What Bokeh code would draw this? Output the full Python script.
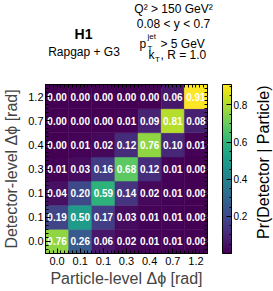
import numpy as np
from bokeh.plotting import figure
from bokeh.layouts import column, row
from bokeh.models import (ColumnDataSource, LinearColorMapper, ColorBar, FixedTicker,
                          LinearAxis, Range1d)
from bokeh.palettes import Viridis256
from bokeh.core.properties import value
from bokeh.embed import file_html
from bokeh.resources import INLINE

# ---------------- data ----------------
particle_labels = ["0.0", "0.1", "0.1", "0.3", "0.4", "0.7", "1.2"]
detector_labels = ["0.0", "0.1", "0.1", "0.3", "0.4", "0.7", "1.2"]
# rows: detector-level bins (bottom -> top); columns: particle-level bins (left -> right)
det_bin0 = [0.76, 0.26, 0.06, 0.02, 0.01, 0.01, 0.00]
det_bin1 = [0.19, 0.50, 0.17, 0.03, 0.01, 0.01, 0.00]
det_bin2 = [0.04, 0.20, 0.59, 0.14, 0.02, 0.01, 0.00]
det_bin3 = [0.01, 0.03, 0.16, 0.68, 0.12, 0.01, 0.00]
det_bin4 = [0.00, 0.01, 0.02, 0.12, 0.76, 0.10, 0.01]
det_bin5 = [0.00, 0.00, 0.00, 0.01, 0.09, 0.81, 0.08]
det_bin6 = [0.00, 0.00, 0.00, 0.00, 0.00, 0.06, 0.91]
colorbar_ticks = [0.2, 0.4, 0.6, 0.8]
color_low, color_high = 0.0, 0.91

rows = [det_bin0, det_bin1, det_bin2, det_bin3, det_bin4, det_bin5, det_bin6]
n = len(particle_labels)

xs, ys, vs, ts = [], [], [], []
for j, row_vals in enumerate(rows):
    for i, v in enumerate(row_vals):
        xs.append(i + 0.5)
        ys.append(j + 0.5)
        vs.append(v)
        ts.append(f"{v:.2f}")
src = ColumnDataSource(dict(x=xs, y=ys, v=vs, t=ts))

FONT = "Liberation Sans"
W, H = 273, 291
HEAD_H = 66
MAIN_H = H - HEAD_H
SIDE_W = 20
MAIN_W = W - SIDE_W
FRAME_L, FRAME_T, FRAME_B = 42, 18, 38
FRAME_R = MAIN_W - 207


def blank_fig(width, height, xr, yr):
    f = figure(width=width, height=height, x_range=xr, y_range=yr,
               output_backend="svg", toolbar_location=None,
               x_axis_location=None, y_axis_location=None,
               min_border=0, min_border_left=0, min_border_right=0,
               min_border_top=0, min_border_bottom=0,
               background_fill_color="white", border_fill_color="white")
    f.grid.visible = False
    f.outline_line_color = None
    return f


# ---------------- header (text block), page-pixel coordinates ----------------
head = blank_fig(W, HEAD_H, Range1d(0, W), Range1d(HEAD_H, 0))


def htext(x, y, text, size="12px", align="center", style="normal"):
    head.text(x=[x], y=[y], text=[text], text_align=align, text_baseline="middle",
              text_font=value(FONT), text_font_size=size, text_font_style=style,
              text_color="black")


htext(83, 33, "H1", size="14px", style="bold")
htext(83.5, 51, "Rapgap + G3")
htext(173, 8.5, "Q² > 150 GeV²")
htext(173, 23.5, "0.08 < y < 0.7")
htext(139, 43, "p", align="left")
htext(147, 36, "jet", size="8px", align="left")
htext(147, 47.5, "T", size="8px", align="left")
htext(160, 43, "> 5 GeV", align="left")
htext(148, 54.5, "k", align="left")
htext(154.5, 58.5, "T", size="8px", align="left")
htext(160, 54.5, ", R = 1.0", align="left")

# ---------------- colour-bar title strip, page-pixel coordinates ----------------
side = blank_fig(SIDE_W, MAIN_H, Range1d(MAIN_W, W), Range1d(H, HEAD_H))
side.text(x=[262.5], y=[85], text=["Pr(Detector | Particle)"], angle=np.pi / 2,
          text_align="right", text_baseline="middle", text_font=value(FONT),
          text_font_size="16px", text_color="black")

# ---------------- heatmap ----------------
p = figure(width=MAIN_W, height=MAIN_H, x_range=Range1d(0, n), y_range=Range1d(0, n),
           output_backend="svg", toolbar_location=None,
           min_border_left=FRAME_L, min_border_right=FRAME_R,
           min_border_top=FRAME_T, min_border_bottom=FRAME_B,
           background_fill_color="white", border_fill_color="white")
p.grid.visible = False
p.outline_line_color = "black"

# keep each figure's own frame (do not align frames across the layout)
for fig in (head, side, p):
    try:
        fig.frame_align = False
    except Exception:
        pass

mapper = LinearColorMapper(palette=Viridis256, low=color_low, high=color_high)
p.rect(x="x", y="y", width=1, height=1, source=src,
       fill_color={"field": "v", "transform": mapper},
       line_color={"field": "v", "transform": mapper}, line_width=0.5)
p.text(x="x", y="y", text="t", source=src, text_align="center", text_baseline="middle",
       text_color="white", text_font=value(FONT), text_font_style="bold",
       text_font_size="10px")

centers = [i + 0.5 for i in range(n)]
minor = [i / 6 for i in range(n * 6 + 1)]


def style_axis(ax, labels, overrides=None):
    ax.major_tick_out = 0
    ax.minor_tick_out = 0
    ax.axis_line_color = "black"
    ax.major_tick_line_color = "black"
    ax.minor_tick_line_color = "black"
    if labels:
        ax.ticker = FixedTicker(ticks=centers, minor_ticks=minor)
        ax.major_tick_in = 5
        ax.minor_tick_in = 3
        ax.major_label_overrides = overrides
        ax.major_label_text_font = FONT
        ax.major_label_text_font_size = "11px"
        ax.major_label_text_color = "black"
    else:
        ax.ticker = FixedTicker(ticks=[], minor_ticks=minor)
        ax.minor_tick_in = 3
        ax.major_tick_in = 0


xa = p.xaxis[0]
style_axis(xa, True, {c: l for c, l in zip(centers, particle_labels)})
xa.major_label_standoff = 3
xa.axis_label = "Particle-level Δϕ [rad]"
xa.axis_label_text_font = FONT
xa.axis_label_text_font_size = "16px"
xa.axis_label_text_font_style = "normal"
xa.axis_label_standoff = 2

ya = p.yaxis[0]
style_axis(ya, True, {c: l for c, l in zip(centers, detector_labels)})
ya.major_label_standoff = 2
ya.axis_label = "Detector-level Δϕ [rad]"
ya.axis_label_text_font = FONT
ya.axis_label_text_font_size = "16px"
ya.axis_label_text_font_style = "normal"
ya.axis_label_standoff = 5

top_ax = LinearAxis()
style_axis(top_ax, False)
p.add_layout(top_ax, "above")

# right-edge ticks; white outward major ticks (invisible on white) make the gap to the colour bar
right_ax = LinearAxis(ticker=FixedTicker(ticks=centers, minor_ticks=minor),
                      major_tick_in=0, major_tick_out=15, major_tick_line_color="white",
                      minor_tick_in=3, minor_tick_out=0, minor_tick_line_color="black",
                      axis_line_color="black",
                      major_label_overrides={c: "" for c in centers})
p.add_layout(right_ax, "right")

cbar = ColorBar(color_mapper=mapper, width=9, padding=0,
                ticker=FixedTicker(ticks=colorbar_ticks,
                                   minor_ticks=[i * 0.05 for i in range(19)]),
                major_label_text_font=FONT, major_label_text_font_size="10px",
                major_label_text_color="black", label_standoff=2,
                major_tick_in=5, major_tick_out=0, major_tick_line_color="black",
                minor_tick_in=2, minor_tick_out=0, minor_tick_line_color="black",
                bar_line_color="black", border_line_color=None,
                background_fill_color=None)
p.add_layout(cbar, "right")

layout = column(head, row(p, side))
open("out.html", "w").write(file_html(layout, INLINE))
